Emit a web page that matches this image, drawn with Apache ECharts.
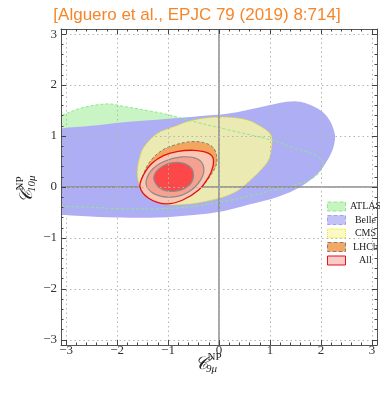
<!DOCTYPE html>
<html>
<head>
<meta charset="utf-8">
<script src="https://cdn.jsdelivr.net/npm/echarts@6/dist/echarts.min.js"></script>
<style>
  html, body { margin: 0; padding: 0; background: #fff; }
  #chart { width: 380px; height: 394px; }
</style>
</head>
<body>
<div id="chart"></div>
<script>
// axis range and labelled ticks (C9 on x, C10 on y)
const axisMin = -3.1;
const axisMax = 3.1;
const tickValues = [-3, -2, -1, 0, 1, 2, 3];

// contour outlines, as [C9, C10] points
const atlasOutline = [
  [-3.6, 0.5], [-3.4, 1.3], [-3.1, 1.4], [-2.7, 1.55], [-2.2, 1.63], [-1.86, 1.58],
  [-1.4, 1.5], [-1.0, 1.42], [-0.56, 1.3], [0.19, 1.12], [1.03, 0.92], [1.49, 0.76],
  [1.88, 0.63], [2.04, 0.5], [2.04, 0.4], [1.88, 0.2], [1.49, 0.04], [1.0, -0.08],
  [0.5, -0.2], [0.0, -0.3], [-0.5, -0.38], [-1.0, -0.42], [-1.86, -0.43],
  [-2.5, -0.4], [-3.1, -0.37], [-3.5, -0.3]
];
const belleOutline = [
  [-3.6, 0.3], [-3.5, 1.1], [-3.1, 1.15], [-2.5, 1.2], [-1.86, 1.27], [-1.0, 1.34],
  [-0.4, 1.39], [0.19, 1.44], [0.83, 1.57], [1.49, 1.68], [1.88, 1.57], [2.13, 1.37],
  [2.27, 1.05], [2.25, 0.8], [2.13, 0.53], [1.94, 0.27], [1.61, 0.01], [1.16, -0.19],
  [0.57, -0.35], [0.1, -0.47], [-0.5, -0.55], [-1.2, -0.6], [-2.0, -0.6],
  [-2.7, -0.57], [-3.1, -0.55], [-3.5, -0.5]
];
const cmsOutline = [
  [-1.6, 0.34], [-1.55, 0.6], [-1.47, 0.79], [-1.21, 1.05], [-0.89, 1.18], [-0.56, 1.3],
  [-0.2, 1.36], [0.19, 1.37], [0.57, 1.31], [0.83, 1.18], [1.0, 1.05], [1.04, 0.92],
  [1.0, 0.6], [0.9, 0.42], [0.6, 0.12], [0.28, -0.12], [-0.24, -0.28], [-0.82, -0.35],
  [-1.15, -0.32], [-1.47, -0.12], [-1.58, 0.1]
];
const lhcbOutline = [
  [-1.53, 0.0], [-1.47, 0.28], [-1.33, 0.53], [-1.1, 0.73], [-0.85, 0.83], [-0.55, 0.89],
  [-0.3, 0.87], [-0.13, 0.79], [-0.05, 0.64], [-0.05, 0.45], [-0.15, 0.25],
  [-0.38, -0.04], [-0.72, -0.24], [-1.05, -0.31], [-1.36, -0.21]
];
const all3Outline = [
  [-1.55, 0.0], [-1.48, 0.24], [-1.32, 0.46], [-1.08, 0.62], [-0.8, 0.7], [-0.5, 0.72],
  [-0.25, 0.68], [-0.12, 0.58], [-0.12, 0.4], [-0.2, 0.2], [-0.4, -0.06],
  [-0.72, -0.26], [-1.05, -0.33], [-1.38, -0.22]
];
const all2Outline = [
  [-1.43, 0.06], [-1.33, 0.32], [-1.08, 0.5], [-0.73, 0.59], [-0.42, 0.55], [-0.3, 0.38],
  [-0.36, 0.14], [-0.6, -0.1], [-0.93, -0.2], [-1.28, -0.13]
];
const all1Outline = [
  [-1.28, 0.18], [-1.15, 0.38], [-0.88, 0.48], [-0.6, 0.42], [-0.5, 0.25],
  [-0.58, 0.04], [-0.85, -0.08], [-1.15, -0.03]
];

const serif = '"Liberation Serif", "DejaVu Serif", serif';

function region(name, points, style, z) {
  return {
    type: 'custom',
    name: name,
    z: z,
    clip: true,
    silent: true,
    data: [[0, 0]],
    renderItem: (params, api) => ({
      type: 'polygon',
      shape: { points: points.map((p) => api.coord(p)), smooth: 0.35 },
      style: style
    })
  };
}

function axis(pos, main) {
  return {
    type: 'value',
    position: pos,
    min: axisMin,
    max: axisMax,
    splitNumber: 6,
    z: 10,
    axisLine: { show: true, onZero: false, lineStyle: { color: '#555', width: 1 } },
    axisTick: { show: true, inside: true, length: 5, lineStyle: { color: '#444' } },
    minorTick: { show: true, splitNumber: 5, length: 2.5, lineStyle: { color: '#444' } },
    splitLine: {
      show: main,
      lineStyle: { color: '#b4b4b4', type: [1.5, 3], width: 1 }
    },
    axisLabel: {
      show: main,
      margin: pos === 'left' ? 4 : -1,
      color: '#333',
      fontFamily: serif,
      fontSize: 13,
      formatter: (v) => (tickValues.includes(v) ? String(v).replace('-', '\u2212') : '')
    }
  };
}

const chart = echarts.init(document.getElementById('chart'), null, { renderer: 'canvas' });

chart.setOption({
  animation: false,
  grid: { left: 61, top: 29, width: 316, height: 316, containLabel: false },
  xAxis: [axis('bottom', true), axis('top', false)],
  yAxis: [axis('left', true), axis('right', false)],
  legend: {
    orient: 'vertical',
    left: 327,
    top: 201.5,
    padding: 0,
    itemWidth: 18,
    itemHeight: 9,
    itemGap: 3.5,
    icon: 'rect',
    selectedMode: false,
    formatter: '{n|{name}}',
    textStyle: {
      rich: { n: { width: 30, align: 'center', fontFamily: serif, fontSize: 10, color: '#222', lineHeight: 12 } }
    },
    data: [
      { name: 'ATLAS', itemStyle: { color: '#c6f5c0', borderColor: '#94e694', borderWidth: 1, borderType: 'dashed' } },
      { name: 'Belle', itemStyle: { color: '#c2c2f6', borderColor: '#a2a2ea', borderWidth: 1, borderType: 'dashed' } },
      { name: 'CMS', itemStyle: { color: '#fafac4', borderColor: '#f0e020', borderWidth: 1, borderType: 'dotted' } },
      { name: 'LHCb', itemStyle: { color: '#f4a862', borderColor: '#808080', borderWidth: 1, borderType: 'dashed' } },
      { name: 'All', itemStyle: { color: '#fbcaca', borderColor: '#e81010', borderWidth: 1 } }
    ]
  },
  graphic: [
    {
      type: 'text',
      style: {
        text: '[Alguero et al., EPJC 79 (2019) 8:714]',
        x: 197, y: 15.5,
        textAlign: 'center', textVerticalAlign: 'middle',
        fill: '#f5862a',
        font: '17px "Liberation Sans", Arial, sans-serif'
      }
    },
    {
      type: 'group', x: 195, y: 364,
      children: [
        { type: 'text', style: { text: '\uD835\uDC9E', x: 0, y: 0, textVerticalAlign: 'middle', fill: '#222', font: 'italic 18px ' + serif } },
        { type: 'text', style: { text: 'NP', x: 12.5, y: -7, textVerticalAlign: 'middle', fill: '#222', font: '11px ' + serif } },
        { type: 'text', style: { text: '9\u03BC', x: 11, y: 5, textVerticalAlign: 'middle', fill: '#222', font: 'italic 11px ' + serif } }
      ]
    },
    {
      type: 'group', x: 27, y: 203, rotation: Math.PI / 2,
      children: [
        { type: 'text', style: { text: '\uD835\uDC9E', x: 0, y: 0, textVerticalAlign: 'middle', fill: '#222', font: 'italic 18px ' + serif } },
        { type: 'text', style: { text: 'NP', x: 12.5, y: -7, textVerticalAlign: 'middle', fill: '#222', font: '11px ' + serif } },
        { type: 'text', style: { text: '10\u03BC', x: 11, y: 5, textVerticalAlign: 'middle', fill: '#222', font: 'italic 11px ' + serif } }
      ]
    }
  ],
  series: [
    region('ATLAS', atlasOutline, { fill: '#c9f4c4' }, 1),
    region('Belle', belleOutline, { fill: '#aeaef4' }, 2),
    region('CMS', cmsOutline, { fill: '#eaeab2', stroke: '#e8dc10', lineWidth: 1, lineDash: [2, 2] }, 3),
    region('ATLAS', atlasOutline, { fill: 'none', stroke: '#8fe68f', lineWidth: 1, lineDash: [3, 2] }, 4),
    region('LHCb', lhcbOutline, { fill: '#f3a75c', stroke: '#7f7f7f', lineWidth: 1, lineDash: [3, 2] }, 5),
    region('All', all3Outline, { fill: '#f9c7b4', stroke: '#e81010', lineWidth: 1.3 }, 6),
    region('All', all2Outline, { fill: '#f6a090', stroke: '#8a8a8a', lineWidth: 1.2 }, 7),
    region('All', all1Outline, { fill: '#fc4848', stroke: '#8a8a8a', lineWidth: 1.2 }, 8),
    {
      type: 'line',
      data: [],
      z: 11,
      markLine: {
        silent: true,
        symbol: ['none', 'none'],
        label: { show: false },
        lineStyle: { color: '#8a8a8a', width: 1.5, type: 'solid' },
        data: [{ xAxis: 0 }, { yAxis: 0 }]
      }
    }
  ]
});
</script>
</body>
</html>
